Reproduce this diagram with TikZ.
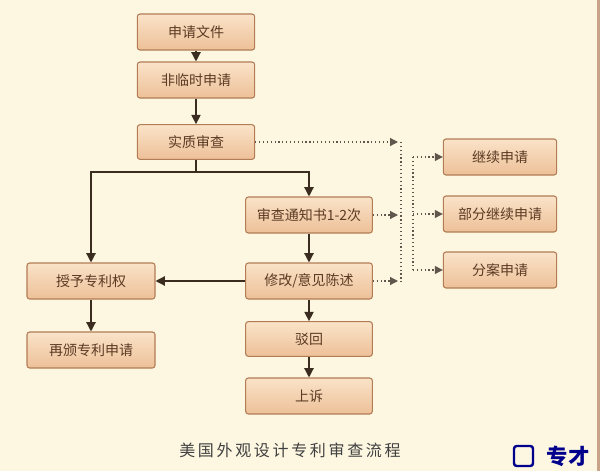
\documentclass[tikz,border=0pt]{standalone}
\usepackage{fontspec}
\newfontfamily\cjk{Noto Sans CJK SC}
\usetikzlibrary{arrows.meta,calc}
\definecolor{bg}{HTML}{FDF7E2}
\definecolor{btop}{HTML}{FAE3C8}
\definecolor{bbot}{HTML}{EDC098}
\definecolor{bline}{HTML}{B27C55}
\definecolor{btext}{HTML}{5A3A22}
\definecolor{lk}{HTML}{3A2C1E}
\tikzset{
 box/.style={draw=bline,line width=0.8pt,rounded corners=2pt,top color=btop,bottom color=bbot,
   minimum height=27pt,text=btext,font=\cjk\fontsize{10.5}{12}\selectfont,inner sep=0pt},
 wbox/.style={box,minimum width=88pt},
 conn/.style={draw=lk,line width=1pt,-{Triangle[length=7pt,width=7pt]}},
 dot/.style={draw=lk!80,line width=0.9pt,dotted},
 dotar/.style={dot,-{Triangle[length=6pt,width=6pt]}}
}
\begin{document}
\begin{tikzpicture}[x=0.75pt,y=-0.75pt]
\fill[bg] (0,0) rectangle (600,471);
\useasboundingbox (0,0) rectangle (600,471);
\fill[bline!70] (597,0) rectangle (600,471);
\node[wbox] (a) at (196,32) {申请文件};
\node[wbox] (b) at (196,80) {非临时申请};
\node[wbox,minimum height=26pt] (c) at (196,142) {实质审查};
\node[box,minimum width=95pt] (d) at (309,215) {审查通知书1-2次};
\node[box,minimum width=95pt] (e) at (309,281) {修改/意见陈述};
\node[box,minimum width=95pt,minimum height=26pt] (f) at (309,339) {驳回};
\node[box,minimum width=95pt] (g) at (309,396) {上诉};
\node[box,minimum width=96pt] (h) at (91,281) {授予专利权};
\node[box,minimum width=96pt] (i) at (91,350) {再颁专利申请};
\node[box,minimum width=85pt] (j) at (500,157) {继续申请};
\node[box,minimum width=85pt] (k) at (500,214) {部分继续申请};
\node[box,minimum width=85pt] (l) at (500,270) {分案申请};
\draw[conn] (a) -- (b);
\draw[conn] (b) -- (c);
\coordinate (s) at (196,172);
\draw[draw=lk,line width=1pt] (c) -- (s);
\draw[conn] (s) -| (h);
\draw[conn] (s) -| (d);
\draw[conn] (d) -- (e);
\draw[conn] (e) -- (h);
\draw[conn] (e) -- (f);
\draw[conn] (f) -- (g);
\draw[conn] (h) -- (i);
\coordinate (v1) at (401,142);
\coordinate (v2) at (401,285);
\coordinate (w1) at (413,157);
\coordinate (w2) at (413,270);
\draw[dot] (v1) -- (v2);
\draw[dot] (w1) -- (w2);
\draw[dotar] (c.east) -- (c.east -| 398,0);
\draw[dotar] (d.east) -- (d.east -| 398,0);
\draw[dotar] (e.east) -- (e.east -| 398,0);
\draw[dotar] (w1) -- (j.west);
\draw[dotar] (413,214) -- (k.west);
\draw[dotar] (w2) -- (l.west);
\node[font=\cjk\fontsize{12}{14}\selectfont,text=black!75] (t) at (290,450) {美\,国\,外\,观\,设\,计\,专\,利\,审\,查\,流\,程};
\node[font=\cjk\bfseries\fontsize{16}{17}\selectfont,text=blue!55!black,inner sep=0pt] (logo) at (568,456) {专才};
\draw[blue!55!black,line width=1.8pt,rounded corners=2pt] (514,446) rectangle (533,466);
\end{tikzpicture}
\end{document}
